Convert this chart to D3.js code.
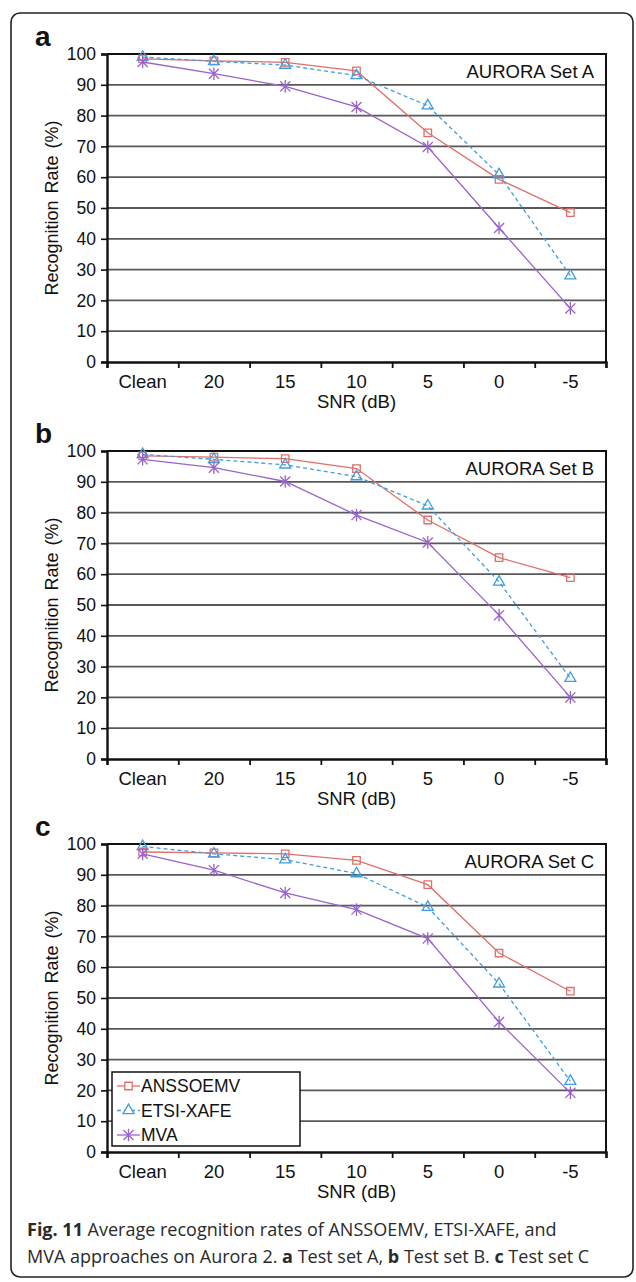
<!DOCTYPE html>
<html>
<head>
<meta charset="utf-8">
<script src="https://cdn.jsdelivr.net/npm/d3@7"></script>
<style>
  body { margin: 0; background: #fff; }
  svg text { font-family: "Liberation Sans", Arial, sans-serif; }
</style>
</head>
<body>
<div id="chart"></div>
<script>
// data
var categories = ["Clean", "20", "15", "10", "5", "0", "-5"];
var yTicks = [0, 10, 20, 30, 40, 50, 60, 70, 80, 90, 100];
var seriesNames = ["ANSSOEMV", "ETSI-XAFE", "MVA"];
var panelLetters = ["a", "b", "c"];
var panelTitles = ["AURORA Set A", "AURORA Set B", "AURORA Set C"];

var anssoemvA = [98.4, 97.8, 97.3, 94.5, 74.4, 59.3, 48.5];
var etsiA     = [99.0, 97.6, 96.4, 93.0, 83.2, 60.8, 28.0];
var mvaA      = [97.4, 93.6, 89.5, 82.8, 69.8, 43.5, 17.4];

var anssoemvB = [98.4, 98.0, 97.5, 94.3, 77.6, 65.4, 58.9];
var etsiB     = [98.9, 97.3, 95.5, 91.7, 82.2, 57.5, 26.2];
var mvaB      = [97.3, 94.6, 90.1, 79.2, 70.3, 46.7, 20.0];

var anssoemvC = [97.4, 97.1, 96.8, 94.7, 86.8, 64.6, 52.2];
var etsiC     = [99.2, 96.8, 94.9, 90.4, 79.5, 54.6, 23.0];
var mvaC      = [96.8, 91.5, 84.1, 78.7, 69.3, 42.2, 19.2];

var panelData = [
  [anssoemvA, etsiA, mvaA],
  [anssoemvB, etsiB, mvaB],
  [anssoemvC, etsiC, mvaC]
];

// layout
var svgWidth = 636;
var svgHeight = 1282;
var plotLeft = 107;
var plotRight = 606;
var plotHeight = 308;
var panelTops = [54, 451, 844];
var fontSize = 18.5;

var colors = ["#e06f6a", "#3f9de0", "#9a62cf"];
var dashes = [null, "4,3", null];

// Excel-like star marker: vertical bar plus an X
var starSymbol = {
  draw: function(context, size) {
    var r = Math.sqrt(size) * 0.6;
    var d = r * 0.8;
    context.moveTo(0, -r); context.lineTo(0, r);
    context.moveTo(-d, -d); context.lineTo(d, d);
    context.moveTo(-d, d); context.lineTo(d, -d);
  }
};
var symbolTypes = [d3.symbolSquare, d3.symbolTriangle, starSymbol];
var symbolSizes = [56, 52, 110];

var svg = d3.select("#chart")
  .append("svg")
  .attr("width", svgWidth)
  .attr("height", svgHeight);

svg.append("rect")
  .attr("width", svgWidth).attr("height", svgHeight)
  .attr("fill", "#fff");

// rounded outer frame
svg.append("rect")
  .attr("x", 11).attr("y", 13)
  .attr("width", 622).attr("height", 1264)
  .attr("rx", 9)
  .attr("fill", "none")
  .attr("stroke", "#222")
  .attr("stroke-width", 1.6);

var x = d3.scaleBand()
  .domain(categories)
  .range([plotLeft, plotRight]);

var xEdges = d3.scaleLinear()
  .domain([0, categories.length])
  .range([plotLeft, plotRight]);

function drawPanel(p) {
  var top = panelTops[p];
  var bottom = top + plotHeight;
  var y = d3.scaleLinear().domain([0, 100]).range([bottom, top]);
  var g = svg.append("g");

  // gridlines
  g.append("g")
    .selectAll("line")
    .data(yTicks.filter(function(d) { return d > 0 && d < 100; }))
    .join("line")
    .attr("x1", plotLeft).attr("x2", plotRight)
    .attr("y1", function(d) { return y(d); })
    .attr("y2", function(d) { return y(d); })
    .attr("stroke", "#585858")
    .attr("stroke-width", 1.8);

  // frame top/right
  g.append("path")
    .attr("d", "M" + plotLeft + "," + top + "H" + plotRight + "V" + bottom)
    .attr("fill", "none")
    .attr("stroke", "#111")
    .attr("stroke-width", 2);

  // y axis
  var yAxis = g.append("g")
    .attr("transform", "translate(" + plotLeft + ",0)")
    .call(d3.axisLeft(y).tickValues(yTicks).tickSize(6).tickPadding(5));
  yAxis.select(".domain").attr("stroke", "#111").attr("stroke-width", 2.4);
  yAxis.selectAll(".tick line").attr("stroke", "#111").attr("stroke-width", 1.6);
  yAxis.selectAll(".tick text")
    .attr("font-size", 17.5)
    .attr("fill", "#111")
    .style("font-family", "Liberation Sans, Arial, sans-serif");

  // x axis: ticks on band edges, labels on band centres
  var xTickAxis = g.append("g")
    .attr("transform", "translate(0," + bottom + ")")
    .call(d3.axisBottom(xEdges).tickValues(d3.range(categories.length + 1))
      .tickSize(6).tickFormat(""));
  xTickAxis.select(".domain").attr("stroke", "#111").attr("stroke-width", 2.4);
  xTickAxis.selectAll(".tick line").attr("stroke", "#111").attr("stroke-width", 1.8);

  var xLabelAxis = g.append("g")
    .attr("transform", "translate(0," + bottom + ")")
    .call(d3.axisBottom(x).tickSize(0).tickPadding(13));
  xLabelAxis.select(".domain").remove();
  xLabelAxis.selectAll(".tick text")
    .attr("font-size", fontSize)
    .attr("fill", "#111")
    .style("font-family", "Liberation Sans, Arial, sans-serif");

  // axis titles
  g.append("text")
    .attr("x", (plotLeft + plotRight) / 2)
    .attr("y", bottom + 46)
    .attr("text-anchor", "middle")
    .attr("font-size", fontSize)
    .attr("fill", "#111")
    .text("SNR (dB)");

  g.append("text")
    .attr("transform", "translate(58," + (top + plotHeight / 2) + ") rotate(-90)")
    .attr("text-anchor", "middle")
    .attr("font-size", 18)
    .attr("fill", "#111")
    .attr("word-spacing", 2)
    .text("Recognition Rate (%)");

  // panel letter and set title
  g.append("text")
    .attr("x", 35).attr("y", top - 8)
    .attr("font-size", 28)
    .attr("font-weight", "bold")
    .attr("fill", "#111")
    .text(panelLetters[p]);

  g.append("text")
    .attr("x", 594).attr("y", top + 24)
    .attr("text-anchor", "end")
    .attr("font-size", fontSize)
    .attr("fill", "#111")
    .text(panelTitles[p]);

  // series
  var line = d3.line()
    .x(function(d, i) { return x(categories[i]) + x.bandwidth() / 2; })
    .y(function(d) { return y(d); });

  panelData[p].forEach(function(values, s) {
    g.append("path")
      .datum(values)
      .attr("d", line)
      .attr("fill", "none")
      .attr("stroke", colors[s])
      .attr("stroke-width", 1.3)
      .attr("stroke-dasharray", dashes[s]);

    g.append("g")
      .selectAll("path")
      .data(values)
      .join("path")
      .attr("transform", function(d, i) {
        return "translate(" + (x(categories[i]) + x.bandwidth() / 2) + "," + y(d) + ")";
      })
      .attr("d", d3.symbol().type(symbolTypes[s]).size(symbolSizes[s]))
      .attr("fill", "none")
      .attr("stroke", colors[s])
      .attr("stroke-width", 1.3);
  });

  return y;
}

var yScales = panelLetters.map(function(d, p) { return drawPanel(p); });

// legend in panel c
var legend = svg.append("g");
legend.append("rect")
  .attr("x", 112).attr("y", 1072)
  .attr("width", 188).attr("height", 74)
  .attr("fill", "#fff")
  .attr("stroke", "#111")
  .attr("stroke-width", 1.5);

var legendRows = legend.selectAll("g.row")
  .data(seriesNames)
  .join("g")
  .attr("class", "row")
  .attr("transform", function(d, i) { return "translate(0," + (1086 + i * 24.5) + ")"; });

legendRows.append("line")
  .attr("x1", 117).attr("x2", 140)
  .attr("stroke", function(d, i) { return colors[i]; })
  .attr("stroke-width", 1.3)
  .attr("stroke-dasharray", function(d, i) { return dashes[i]; });

legendRows.append("path")
  .attr("transform", "translate(128.5,0)")
  .attr("d", function(d, i) { return d3.symbol().type(symbolTypes[i]).size(symbolSizes[i])(); })
  .attr("fill", "#fff")
  .attr("stroke", function(d, i) { return colors[i]; })
  .attr("stroke-width", 1.3);

legendRows.append("text")
  .attr("x", 141)
  .attr("dy", "0.36em")
  .attr("font-size", 17.5)
  .attr("fill", "#111")
  .text(function(d) { return d; });

// caption
var cap1 = svg.append("text")
  .attr("x", 27).attr("y", 1236)
  .attr("font-size", 18)
  .attr("fill", "#2a2a2a")
  .style("font-family", "'Open Sans', 'Noto Sans', sans-serif");
cap1.append("tspan").attr("font-weight", "bold").text("Fig. 11");
cap1.append("tspan").text(" Average recognition rates of ANSSOEMV, ETSI-XAFE, and");

var cap2 = svg.append("text")
  .attr("x", 27).attr("y", 1263)
  .attr("font-size", 18)
  .attr("fill", "#2a2a2a")
  .style("font-family", "'Open Sans', 'Noto Sans', sans-serif");
cap2.append("tspan").text("MVA approaches on Aurora 2. ");
cap2.append("tspan").attr("font-weight", "bold").text("a");
cap2.append("tspan").text(" Test set A, ");
cap2.append("tspan").attr("font-weight", "bold").text("b");
cap2.append("tspan").text(" Test set B. ");
cap2.append("tspan").attr("font-weight", "bold").text("c");
cap2.append("tspan").text(" Test set C");
</script>
</body>
</html>
